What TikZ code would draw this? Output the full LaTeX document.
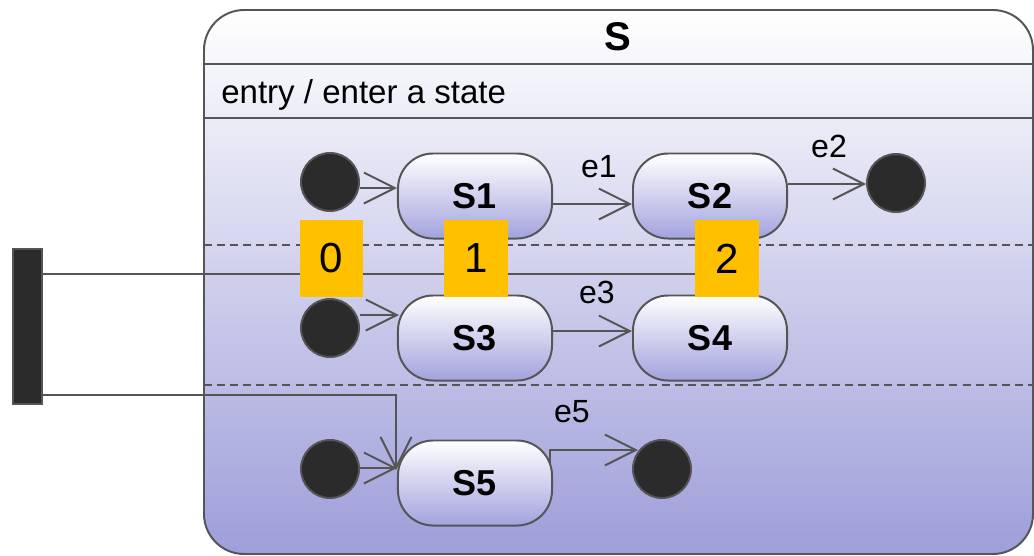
\documentclass[tikz,border=0pt]{standalone}
\usepackage{fontspec}
\setmainfont{Liberation Sans}
\usetikzlibrary{arrows.meta,calc}
\definecolor{edgegray}{HTML}{555555}
\definecolor{dotfill}{HTML}{2B2B2B}
\definecolor{lavbox}{HTML}{9E9EDA}
\definecolor{lavstate}{HTML}{A2A2DE}
\definecolor{notefill}{HTML}{FFC000}
\tikzset{
  outline/.style={draw=edgegray, line width=1.4pt},
  statebox/.style={outline, rounded corners=25pt, minimum width=3.85cm, minimum height=2.125cm,
    top color=white, bottom color=lavstate, inner sep=0pt,
    font=\bfseries\fontsize{25.6pt}{30pt}\selectfont},
  pseudo/.style={circle, outline, fill=dotfill, minimum size=1.45cm, inner sep=0pt},
  trans/.style={outline, -{Straight Barb[length=22pt,width=22pt]}},
  plainline/.style={outline},
  evlabel/.style={anchor=base, inner sep=0pt, font=\fontsize{22.8pt}{26pt}\selectfont},
  notebox/.style={fill=notefill, minimum width=1.575cm, minimum height=1.925cm, inner sep=0pt,
    font=\fontsize{29.9pt}{34pt}\selectfont},
  regionsep/.style={draw=edgegray, line width=1.4pt, dash pattern=on 5.7pt off 3.6pt}
}
\begin{document}
\begin{tikzpicture}[x=0.025cm, y=-0.025cm]
\useasboundingbox (0,0) rectangle (1034,555);

% composite state S
\path[outline, rounded corners=28.5pt, top color=white, bottom color=lavbox] (204,10) rectangle (1033,554);
\draw[outline] (204,64) -- (1033,64);
\draw[outline] (204,118) -- (1033,118);
\draw[regionsep] (204,245) -- (1033,245);
\draw[regionsep] (204,385) -- (1033,385);
\node[anchor=base, inner sep=0pt, font=\bfseries\fontsize{28.5pt}{32pt}\selectfont] (title) at (618,50) {S};
\node[anchor=base west, inner sep=0pt, font=\fontsize{23.5pt}{28pt}\selectfont] (entry) at (221,103) {entry / enter a state};

% fork bar
\node[rectangle, outline, fill=dotfill, minimum width=0.725cm, minimum height=3.875cm, inner sep=0pt] (fork) at (27.5,326.5) {};

% region 1
\node[pseudo] (i1) at (330,182) {};
\node[statebox] (S1) at (475,196) {S1};
\node[statebox] (S2) at (710,196) {S2};
\node[pseudo] (f1) at (896,183) {};

% region 2
\node[pseudo] (i2) at (330,328) {};
\node[statebox] (S3) at (475,338) {S3};
\node[statebox] (S4) at (710,338) {S4};

% region 3
\node[pseudo] (i3) at (330,469) {};
\node[statebox] (S5) at (475,483) {S5};
\node[pseudo] (f3) at (662,469) {};

% transitions
\draw[trans] (i1.east |- 0,188) -- (S1.west |- 0,188);
\draw[trans] (S1.east |- 0,204) -- (S2.west |- 0,204);
\draw[trans] (S2.east |- 0,184) -- (f1.west |- 0,184);
\draw[trans] (i2.east |- 0,315) -- ($(S3.west |- 0,315)+(2,0)$);
\draw[trans] (S3.east |- 0,331) -- (S4.west |- 0,331);
\draw[trans] (i3.east |- 0,468) -- (S5.west |- 0,468);
\draw[trans] ($(S5.east)+(-3,-20)$) |- ($(f3.west)+(6,-19)$);

% fork outputs
\draw[plainline] (fork.east |- 0,274) -| (S4.north);
\draw[trans] (fork.east |- 0,395) -| ($(S5.west)+(-1,-13)$);

% event labels
\node[evlabel] (e1) at (599,177) {e1};
\node[evlabel] (e2) at (829,157) {e2};
\node[evlabel] (e3) at (597,303) {e3};
\node[evlabel] (e5) at (572,422) {e5};

% numbered markers
\node[notebox] (n0) at (331.5,258.5) {\raisebox{-3.2pt}{0}};
\node[notebox] (n1) at (476,258.5) {\raisebox{-3.2pt}{1}};
\node[notebox] (n2) at (727,258.5) {\raisebox{-3.2pt}{2}};
\end{tikzpicture}
\end{document}
